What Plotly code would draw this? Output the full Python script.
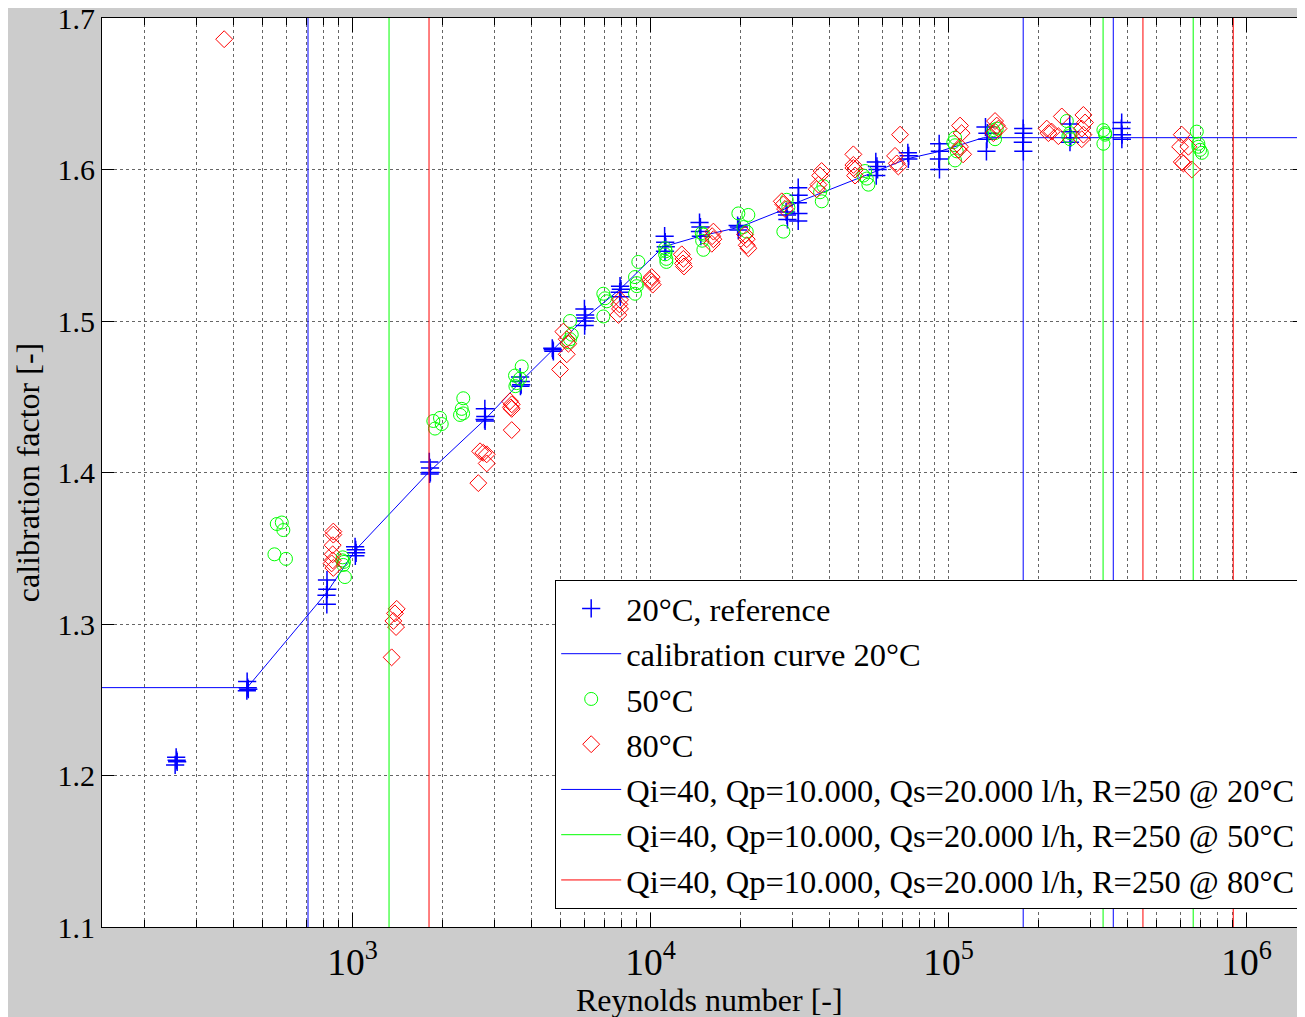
import plotly.graph_objects as go

# 20°C reference measurements (Reynolds number, calibration factor)
re_20 = [256, 258, 254, 257, 443, 445, 447, 442, 821, 823, 818, 820,
         1020, 1025, 1028, 1022, 1810, 1820, 1825, 1815, 2780, 2790, 2775, 2785,
         3650, 3670, 3680, 3660, 4680, 4700, 4720, 6000, 6030, 6050, 6020, 6010,
         7900, 7950, 7880, 7920, 11150, 11200, 11250, 11180, 14600, 14700, 14650, 14750,
         19600, 19800, 19700, 28500, 28700, 28800, 31300, 31400, 31200, 31350, 31300,
         57000, 57500, 57800, 57200, 73000, 73500, 73300, 93000, 93500, 92800, 93200,
         133000, 135000, 134500, 134000, 178000, 178500, 177500, 178200,
         255000, 256000, 257000, 255500, 381000, 380000, 382000, 381500]
cf_20 = [1.212, 1.209, 1.207, 1.210, 1.262, 1.258, 1.257, 1.256, 1.329, 1.323, 1.319, 1.313,
         1.351, 1.349, 1.347, 1.345, 1.407, 1.403, 1.400, 1.399, 1.442, 1.437, 1.435, 1.434,
         1.463, 1.460, 1.458, 1.457, 1.482, 1.481, 1.480, 1.508, 1.504, 1.502, 1.500, 1.497,
         1.523, 1.521, 1.519, 1.516, 1.556, 1.552, 1.549, 1.546, 1.565, 1.562, 1.559, 1.556,
         1.563, 1.562, 1.560, 1.572, 1.570, 1.567, 1.588, 1.583, 1.578, 1.571, 1.566,
         1.605, 1.602, 1.600, 1.596, 1.611, 1.609, 1.607, 1.617, 1.612, 1.607, 1.600,
         1.628, 1.624, 1.620, 1.612, 1.627, 1.624, 1.618, 1.612,
         1.630, 1.625, 1.621, 1.618, 1.631, 1.627, 1.623, 1.620]

# calibration curve 20°C
curve_re = [100, 443, 821, 1025, 1820, 2783, 3667, 4699, 6026, 7903, 11040, 14660,
            19950, 27540, 31740, 57380, 72400, 93500, 130900, 1e7]
curve_cf = [1.258, 1.258, 1.321, 1.349, 1.401, 1.435, 1.460, 1.481, 1.502, 1.521, 1.549, 1.556,
            1.562, 1.573, 1.579, 1.599, 1.607, 1.612, 1.621, 1.621]

# 50°C
re_50 = [557, 579, 586, 547, 598, 927, 936, 931, 943, 925, 1867, 1966, 1891, 1992,
         2353, 2325, 2350, 2295, 3696, 3510, 3556, 3520, 3648, 5370, 5440, 5370, 5300,
         6944, 7035, 7128, 6944, 9100, 8870, 8990, 8870, 8990, 11190, 11190, 11300, 11300, 11250,
         15040, 14900, 15040, 14850, 19710, 21290, 20490, 21030, 28640, 27900, 29000,
         38020, 37540, 37060, 52480, 53150, 53830, 51760,
         105150, 105150, 106500, 105150, 103760, 141300, 143200, 143200, 145100,
         249300, 255700, 255700, 252400, 330800, 335100, 330800, 335100,
         680600, 689000, 698200, 707400, 689000]
cf_50 = [1.366, 1.367, 1.362, 1.346, 1.343, 1.344, 1.341, 1.339, 1.331, 1.342, 1.434, 1.436, 1.429, 1.432,
         1.449, 1.442, 1.439, 1.438, 1.470, 1.464, 1.459, 1.457, 1.462, 1.500, 1.491, 1.488, 1.486,
         1.518, 1.515, 1.513, 1.503, 1.539, 1.529, 1.525, 1.518, 1.523, 1.548, 1.544, 1.541, 1.539, 1.546,
         1.557, 1.553, 1.547, 1.558, 1.571, 1.570, 1.562, 1.559, 1.580, 1.559, 1.575,
         1.589, 1.579, 1.585, 1.599, 1.594, 1.590, 1.596,
         1.621, 1.616, 1.612, 1.606, 1.618, 1.626, 1.624, 1.620, 1.627,
         1.632, 1.624, 1.620, 1.622, 1.626, 1.623, 1.617, 1.624,
         1.625, 1.617, 1.613, 1.611, 1.615]

# 80°C
re_80 = [371, 862, 862, 858, 858, 851, 862, 858, 1407, 1388, 1371, 1400, 1353,
         2679, 2748, 2820, 2820, 2643, 3377, 3421, 3421, 3421, 3400,
         5098, 5234, 5300, 5234, 4970, 7900, 7860, 7800, 7900, 10090, 9960, 10170, 10090,
         12730, 12890, 12850, 12950, 16250, 16250, 16050, 16100, 20760, 21030, 21030, 21300,
         27560, 27900, 28260, 37060, 36600, 36100, 37500, 47920, 47920, 48550, 48550, 47920,
         68740, 66140, 67010, 67830, 109300, 110600, 109300, 111900, 108000,
         143200, 145100, 147100, 141300, 213500, 221900, 233600, 239800, 216300,
         283400, 287100, 279900, 283400, 279900, 606000, 598200, 637800, 606000, 613600, 654800]
cf_80 = [1.686, 1.361, 1.359, 1.352, 1.346, 1.340, 1.337, 1.342, 1.310, 1.307, 1.302, 1.298, 1.278,
         1.414, 1.413, 1.412, 1.406, 1.393, 1.447, 1.445, 1.442, 1.428, 1.443,
         1.493, 1.488, 1.485, 1.478, 1.468, 1.514, 1.511, 1.504, 1.508, 1.529, 1.527, 1.524, 1.526,
         1.544, 1.541, 1.538, 1.536, 1.559, 1.554, 1.551, 1.556, 1.557, 1.554, 1.550, 1.548,
         1.579, 1.577, 1.574, 1.596, 1.590, 1.587, 1.599, 1.610, 1.603, 1.600, 1.596, 1.601,
         1.623, 1.609, 1.604, 1.602, 1.629, 1.624, 1.615, 1.610, 1.613,
         1.632, 1.629, 1.627, 1.624, 1.627, 1.625, 1.622, 1.635, 1.624,
         1.636, 1.631, 1.627, 1.623, 1.620, 1.623, 1.615, 1.615, 1.605, 1.604, 1.600]

# Reynolds numbers at Qi, Qp, Qs for each temperature
flow_labels = ["20°C", "50°C", "80°C"]
re_limits = [[709, 178000, 357000], [1326, 330000, 662000], [1806, 449000, 902000]]
limit_colours = ["#0000FF", "#00FF00", "#FF0000"]

y_min, y_max = 1.1, 1.7
font_name = "Liberation Serif"

fig = go.Figure()
fig.add_trace(go.Scatter(
    x=re_20, y=cf_20, mode="markers", name="20°C, reference",
    marker=dict(symbol="cross-thin-open", size=13, color="#0000FF", line=dict(width=1.5)),
    legendgroup="a",
))
fig.add_trace(go.Scatter(
    x=curve_re, y=curve_cf, mode="lines", name="calibration curve 20°C",
    line=dict(color="#0000FF", width=1), legendgroup="b",
))
fig.add_trace(go.Scatter(
    x=re_50, y=cf_50, mode="markers", name="50°C",
    marker=dict(symbol="circle-open", size=13, color="#00FF00", line=dict(width=1)),
    legendgroup="c",
))
fig.add_trace(go.Scatter(
    x=re_80, y=cf_80, mode="markers", name="80°C",
    marker=dict(symbol="diamond-open", size=13, color="#FF0000", line=dict(width=1)),
    legendgroup="d",
))

for i, (lab, lims, col) in enumerate(zip(flow_labels, re_limits, limit_colours)):
    xs, ys = [], []
    for r in lims:
        xs += [r, r, None]
        ys += [y_min, y_max, None]
    fig.add_trace(go.Scatter(
        x=xs, y=ys, mode="lines",
        name="Qi=40, Qp=10.000, Qs=20.000 l/h, R=250 @ " + lab,
        line=dict(color=col, width=1), legendgroup="e" + str(i),
    ))

grid = dict(showgrid=True, gridcolor="#666666", griddash="dot", gridwidth=1)
fig.update_xaxes(
    type="log", range=[2.1594, 6.196], dtick=1, exponentformat="power",
    showline=True, linecolor="black", mirror="ticks", ticks="inside", ticklen=14,
    tickcolor="black", tickfont=dict(size=30), zeroline=False, ticklabelstandoff=3,
    ticklabeloverflow="allow", automargin=False,
    minor=dict(dtick="D1", ticks="inside", ticklen=7, tickcolor="black",
               showgrid=True, gridcolor="#666666", griddash="dot"),
    **grid,
)
fig.update_yaxes(
    range=[y_min, y_max], dtick=0.1, tickformat=".1f",
    showline=True, linecolor="black", mirror="ticks", ticks="inside", ticklen=12,
    tickcolor="black", tickfont=dict(size=30), zeroline=False,
    ticklabeloverflow="allow", automargin=False,
    title=dict(text="calibration factor [-]", font=dict(size=32), standoff=8),
    **grid,
)
fig.add_annotation(
    text="Reynolds number [-]", xref="paper", yref="paper", x=0.505, y=0,
    yshift=-73, xanchor="center", yanchor="middle", showarrow=False,
    font=dict(size=32),
)
fig.update_layout(
    width=1297, height=1009, autosize=False,
    margin=dict(l=94, r=0, t=10, b=90),
    paper_bgcolor="#CCCCCC", plot_bgcolor="white",
    font=dict(family=font_name, size=30, color="black"),
    legend=dict(
        x=0.996, y=0.02, xanchor="right", yanchor="bottom",
        bgcolor="white", bordercolor="black", borderwidth=1,
        font=dict(size=32.5), itemwidth=60, tracegroupgap=0,
    ),
)

fig.write_html("out.html")
